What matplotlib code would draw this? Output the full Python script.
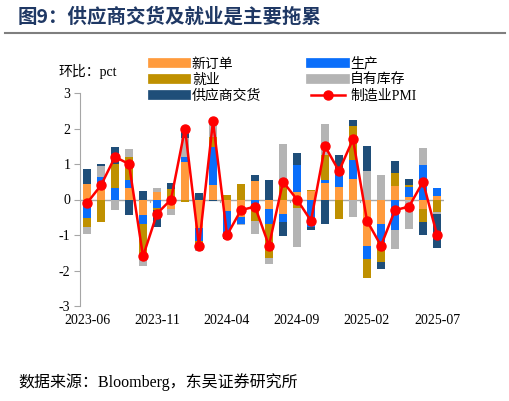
import numpy as np
import matplotlib.pyplot as plt
from matplotlib.lines import Line2D

plt.rcParams['font.family'] = ['Liberation Serif', 'Noto Sans CJK SC']
plt.rcParams['axes.unicode_minus'] = False

months = ["2023-06", "2023-07", "2023-08", "2023-09", "2023-10", "2023-11",
          "2023-12", "2024-01", "2024-02", "2024-03", "2024-04", "2024-05",
          "2024-06", "2024-07", "2024-08", "2024-09", "2024-10", "2024-11",
          "2024-12", "2025-01", "2025-02", "2025-03", "2025-04", "2025-05",
          "2025-06", "2025-07"]

new_orders = [0.43, 0.44, 0.00, 0.32, -0.45, 0.22, -0.27, 1.05, -0.80, 0.42, -0.33, -0.48, 0.51,
              -0.27, -0.42, 0.20, 0.25, 0.46, 0.35, 0.58, -1.31, -0.70, 0.39, 0.08, -0.27, 0.11]
production = [-0.53, 0.19, 0.32, 0.23, -0.25, -0.24, 0.00, 0.15, -0.38, 1.07, -0.72, -0.21, -0.12,
              -0.42, -0.20, 0.77, -0.78, 0.10, 0.51, 0.53, -0.36, -0.50, -0.85, 0.27, 0.96, 0.22]
employment = [-0.25, -0.64, 0.68, 0.66, -0.97, -0.05, 0.29, -0.08, -0.12, 0.27, 0.13, 0.43, -0.48,
              -0.96, 0.39, -0.24, 0.03, 0.68, -0.54, 0.96, -0.53, -0.57, 0.35, 0.05, -0.36, -0.35]
inventory = [-0.19, 0.31, -0.29, 0.20, -0.21, 0.10, -0.18, 0.52, -0.16, 0.43, 0.00, -0.04, -0.38,
             -0.18, 1.16, -1.10, 0.00, 0.89, 0.00, -0.50, 0.80, 0.69, -0.54, -0.83, 0.50, -0.05]
supplier = [0.43, 0.07, 0.49, -0.45, 0.24, -0.48, 0.18, 0.30, 0.19, -0.04, -0.07, 0.00, 0.19,
            0.54, -0.41, 0.35, -0.07, -0.68, 0.39, 0.16, 0.71, -0.18, 0.34, 0.18, -0.36, -0.96]
pmi = [-0.1, 0.4, 1.2, 1.0, -1.6, -0.4, 0.0, 2.0, -1.3, 2.2, -1.0, -0.3, -0.2,
       -1.3, 0.5, 0.0, -0.6, 1.5, 0.8, 1.7, -0.6, -1.3, -0.3, -0.2, 0.5, -1.0]

series = [("新订单", new_orders, "#FF9B3D"),
          ("生产", production, "#0A6EFA"),
          ("就业", employment, "#BF9000"),
          ("自有库存", inventory, "#B4B4B4"),
          ("供应商交货", supplier, "#1F4E79")]

fig = plt.figure(figsize=(5.10, 4.01), dpi=100)
ax = fig.add_axes([80 / 510, 1 - 306 / 401, 364 / 510, 213 / 401])

x = np.arange(len(months))
pos = np.zeros(len(months))
neg = np.zeros(len(months))
for name, vals, col in series:
    v = np.array(vals)
    p = np.where(v > 0, v, 0)
    n = np.where(v < 0, v, 0)
    ax.bar(x, p, 0.6, bottom=pos, color=col, zorder=2)
    ax.bar(x, n, 0.6, bottom=neg, color=col, zorder=2)
    pos += p
    neg += n

ax.plot(x, pmi, color="#FF0000", lw=1.8, marker="o", ms=6.5, zorder=4)

ax.axhline(0, color="#A6A6A6", lw=1, zorder=1)
for b in [4.5, 9.5, 14.5, 19.5]:
    ax.plot([b, b], [0, -0.08], color="#A6A6A6", lw=0.8, zorder=1)

ax.set_xlim(-0.5, len(months) - 0.5)
ax.set_ylim(-3, 3)
ax.set_yticks(range(-3, 4))
ax.set_xticks(x[::5])
ax.set_xticklabels(months[::5])
for s in ["top", "right", "bottom"]:
    ax.spines[s].set_visible(False)
ax.spines["left"].set_color("#A6A6A6")
ax.tick_params(axis="y", length=4, color="#A6A6A6", labelsize=10, pad=3)
ax.tick_params(axis="x", length=0, labelsize=10, pad=6)

fig.text(58 / 510, 1 - 71 / 401, "环比：pct", fontsize=10, va="center")

handles = [Line2D([], [], color=series[0][2], lw=7),
           Line2D([], [], color=series[2][2], lw=7),
           Line2D([], [], color=series[4][2], lw=7),
           Line2D([], [], color=series[1][2], lw=7),
           Line2D([], [], color=series[3][2], lw=7),
           Line2D([], [], color="#FF0000", lw=1.8, marker="o", ms=6.5)]
labels = ["新订单", "就业", "供应商交货", "生产", "自有库存", "制造业PMI"]
fig.legend(handles, labels, loc="upper left", bbox_to_anchor=(153 / 510, 1 - 57 / 401),
           ncol=2, frameon=False, fontsize=10, handlelength=2.4, handletextpad=0.4,
           columnspacing=3.6, labelspacing=0.22, borderpad=0, borderaxespad=0)

fig.text(18 / 510, 1 - 17 / 401, "图9：供应商交货及就业是主要拖累", fontsize=14,
         fontweight="bold", color="#1F3864", va="center", family=["Noto Sans CJK SC"])
fig.add_artist(Line2D([5 / 510, 505 / 510], [1 - 33 / 401, 1 - 33 / 401],
                      color="#7F7F7F", lw=1.5))
fig.text(18 / 510, 1 - 382 / 401, "数据来源：Bloomberg，东吴证券研究所", fontsize=11.5, va="center")

fig.savefig("out.png", dpi=100)
